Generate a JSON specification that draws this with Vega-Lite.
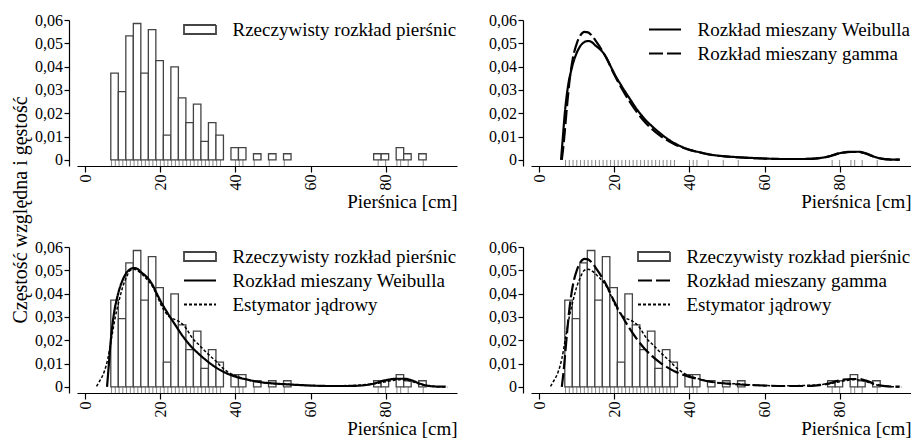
{
  "$schema": "https://vega.github.io/schema/vega-lite/v6.json",
  "padding": {"left": 10, "top": 12, "right": 0, "bottom": 0},
  "background": "white",
  "title": {"text": "Częstość względna i gęstość", "orient": "left", "anchor": "middle", "font": "Liberation Serif", "fontSize": 20, "fontWeight": "normal", "color": "#000", "offset": 4, "dx": 15},
  "datasets": {
    "hist": [
      {"x": 6.8, "x2": 8.8, "y": 0.03723},
      {"x": 8.8, "x2": 10.8, "y": 0.02926},
      {"x": 10.8, "x2": 12.8, "y": 0.05319},
      {"x": 12.8, "x2": 14.8, "y": 0.05851},
      {"x": 14.8, "x2": 16.8, "y": 0.03723},
      {"x": 16.8, "x2": 18.8, "y": 0.05585},
      {"x": 18.8, "x2": 20.8, "y": 0.04255},
      {"x": 20.8, "x2": 22.8, "y": 0.01064},
      {"x": 22.8, "x2": 24.8, "y": 0.03989},
      {"x": 24.8, "x2": 26.8, "y": 0.0266},
      {"x": 26.8, "x2": 28.8, "y": 0.01596},
      {"x": 28.8, "x2": 30.8, "y": 0.02394},
      {"x": 30.8, "x2": 32.8, "y": 0.00798},
      {"x": 32.8, "x2": 34.8, "y": 0.01596},
      {"x": 34.8, "x2": 36.8, "y": 0.01064},
      {"x": 38.8, "x2": 40.8, "y": 0.00532},
      {"x": 40.8, "x2": 42.8, "y": 0.00532},
      {"x": 44.8, "x2": 46.8, "y": 0.00266},
      {"x": 48.8, "x2": 50.8, "y": 0.00266},
      {"x": 52.8, "x2": 54.8, "y": 0.00266},
      {"x": 76.8, "x2": 78.8, "y": 0.00266},
      {"x": 78.8, "x2": 80.8, "y": 0.00266},
      {"x": 82.8, "x2": 84.8, "y": 0.00532},
      {"x": 84.8, "x2": 86.8, "y": 0.00266},
      {"x": 88.8, "x2": 90.8, "y": 0.00266}
    ],
    "rug": [
      {"x": 7}, {"x": 8}, {"x": 9}, {"x": 10}, {"x": 11}, {"x": 12}, {"x": 13}, {"x": 14}, {"x": 15}, {"x": 16},
      {"x": 17}, {"x": 18}, {"x": 19}, {"x": 20}, {"x": 21}, {"x": 22}, {"x": 23}, {"x": 24}, {"x": 25}, {"x": 26},
      {"x": 27}, {"x": 28}, {"x": 29}, {"x": 30}, {"x": 31}, {"x": 32}, {"x": 33}, {"x": 34}, {"x": 35}, {"x": 36},
      {"x": 40}, {"x": 41}, {"x": 42}, {"x": 45}, {"x": 49}, {"x": 53}, {"x": 78}, {"x": 80}, {"x": 83}, {"x": 84}, {"x": 86}, {"x": 90}
    ],
    "curves": [
      {"series": "Rozkład mieszany Weibulla", "x": 5.8, "y": 0},
      {"series": "Rozkład mieszany Weibulla", "x": 6.2, "y": 0.008},
      {"series": "Rozkład mieszany Weibulla", "x": 6.8, "y": 0.02},
      {"series": "Rozkład mieszany Weibulla", "x": 7.6, "y": 0.031},
      {"series": "Rozkład mieszany Weibulla", "x": 8.6, "y": 0.039},
      {"series": "Rozkład mieszany Weibulla", "x": 10, "y": 0.046},
      {"series": "Rozkład mieszany Weibulla", "x": 11, "y": 0.049},
      {"series": "Rozkład mieszany Weibulla", "x": 12, "y": 0.0505},
      {"series": "Rozkład mieszany Weibulla", "x": 13, "y": 0.051},
      {"series": "Rozkład mieszany Weibulla", "x": 14, "y": 0.0505},
      {"series": "Rozkład mieszany Weibulla", "x": 15, "y": 0.049},
      {"series": "Rozkład mieszany Weibulla", "x": 16, "y": 0.0477},
      {"series": "Rozkład mieszany Weibulla", "x": 17, "y": 0.046},
      {"series": "Rozkład mieszany Weibulla", "x": 18, "y": 0.0435},
      {"series": "Rozkład mieszany Weibulla", "x": 19, "y": 0.0402},
      {"series": "Rozkład mieszany Weibulla", "x": 20, "y": 0.037},
      {"series": "Rozkład mieszany Weibulla", "x": 22, "y": 0.0315},
      {"series": "Rozkład mieszany Weibulla", "x": 24, "y": 0.0265},
      {"series": "Rozkład mieszany Weibulla", "x": 26, "y": 0.0217},
      {"series": "Rozkład mieszany Weibulla", "x": 28, "y": 0.0177},
      {"series": "Rozkład mieszany Weibulla", "x": 30, "y": 0.0145},
      {"series": "Rozkład mieszany Weibulla", "x": 32, "y": 0.0117},
      {"series": "Rozkład mieszany Weibulla", "x": 34, "y": 0.0092},
      {"series": "Rozkład mieszany Weibulla", "x": 36, "y": 0.0072},
      {"series": "Rozkład mieszany Weibulla", "x": 38, "y": 0.0056},
      {"series": "Rozkład mieszany Weibulla", "x": 40, "y": 0.0044},
      {"series": "Rozkład mieszany Weibulla", "x": 43, "y": 0.0032},
      {"series": "Rozkład mieszany Weibulla", "x": 46, "y": 0.0022},
      {"series": "Rozkład mieszany Weibulla", "x": 50, "y": 0.0015},
      {"series": "Rozkład mieszany Weibulla", "x": 55, "y": 0.001},
      {"series": "Rozkład mieszany Weibulla", "x": 60, "y": 0.0006},
      {"series": "Rozkład mieszany Weibulla", "x": 65, "y": 0.0004},
      {"series": "Rozkład mieszany Weibulla", "x": 70, "y": 0.0004},
      {"series": "Rozkład mieszany Weibulla", "x": 74, "y": 0.0007},
      {"series": "Rozkład mieszany Weibulla", "x": 77, "y": 0.0015},
      {"series": "Rozkład mieszany Weibulla", "x": 79, "y": 0.0025},
      {"series": "Rozkład mieszany Weibulla", "x": 81, "y": 0.0032},
      {"series": "Rozkład mieszany Weibulla", "x": 83, "y": 0.0035},
      {"series": "Rozkład mieszany Weibulla", "x": 85, "y": 0.0035},
      {"series": "Rozkład mieszany Weibulla", "x": 87, "y": 0.0028},
      {"series": "Rozkład mieszany Weibulla", "x": 89, "y": 0.0015},
      {"series": "Rozkład mieszany Weibulla", "x": 91, "y": 0.0006},
      {"series": "Rozkład mieszany Weibulla", "x": 93, "y": 0.0002},
      {"series": "Rozkład mieszany Weibulla", "x": 96, "y": 0.0001},
      {"series": "Rozkład mieszany gamma", "x": 6.0, "y": 0},
      {"series": "Rozkład mieszany gamma", "x": 6.5, "y": 0.007},
      {"series": "Rozkład mieszany gamma", "x": 7, "y": 0.016},
      {"series": "Rozkład mieszany gamma", "x": 7.5, "y": 0.025},
      {"series": "Rozkład mieszany gamma", "x": 8, "y": 0.033},
      {"series": "Rozkład mieszany gamma", "x": 9, "y": 0.044},
      {"series": "Rozkład mieszany gamma", "x": 10, "y": 0.05},
      {"series": "Rozkład mieszany gamma", "x": 11, "y": 0.0535},
      {"series": "Rozkład mieszany gamma", "x": 12, "y": 0.0549},
      {"series": "Rozkład mieszany gamma", "x": 13, "y": 0.0547},
      {"series": "Rozkład mieszany gamma", "x": 14, "y": 0.0533},
      {"series": "Rozkład mieszany gamma", "x": 15, "y": 0.0512},
      {"series": "Rozkład mieszany gamma", "x": 16, "y": 0.0488},
      {"series": "Rozkład mieszany gamma", "x": 17, "y": 0.0462},
      {"series": "Rozkład mieszany gamma", "x": 18, "y": 0.0433},
      {"series": "Rozkład mieszany gamma", "x": 20, "y": 0.0365},
      {"series": "Rozkład mieszany gamma", "x": 22, "y": 0.0305},
      {"series": "Rozkład mieszany gamma", "x": 24, "y": 0.0252},
      {"series": "Rozkład mieszany gamma", "x": 26, "y": 0.0205},
      {"series": "Rozkład mieszany gamma", "x": 28, "y": 0.0165},
      {"series": "Rozkład mieszany gamma", "x": 30, "y": 0.0133},
      {"series": "Rozkład mieszany gamma", "x": 32, "y": 0.0106},
      {"series": "Rozkład mieszany gamma", "x": 34, "y": 0.0085},
      {"series": "Rozkład mieszany gamma", "x": 36, "y": 0.0067},
      {"series": "Rozkład mieszany gamma", "x": 38, "y": 0.0054},
      {"series": "Rozkład mieszany gamma", "x": 40, "y": 0.0043},
      {"series": "Rozkład mieszany gamma", "x": 43, "y": 0.0031},
      {"series": "Rozkład mieszany gamma", "x": 46, "y": 0.0021},
      {"series": "Rozkład mieszany gamma", "x": 50, "y": 0.0014},
      {"series": "Rozkład mieszany gamma", "x": 55, "y": 0.0009},
      {"series": "Rozkład mieszany gamma", "x": 60, "y": 0.0006},
      {"series": "Rozkład mieszany gamma", "x": 65, "y": 0.0004},
      {"series": "Rozkład mieszany gamma", "x": 70, "y": 0.0004},
      {"series": "Rozkład mieszany gamma", "x": 74, "y": 0.0007},
      {"series": "Rozkład mieszany gamma", "x": 77, "y": 0.0014},
      {"series": "Rozkład mieszany gamma", "x": 79, "y": 0.0024},
      {"series": "Rozkład mieszany gamma", "x": 81, "y": 0.0031},
      {"series": "Rozkład mieszany gamma", "x": 83, "y": 0.0034},
      {"series": "Rozkład mieszany gamma", "x": 85, "y": 0.0034},
      {"series": "Rozkład mieszany gamma", "x": 87, "y": 0.0027},
      {"series": "Rozkład mieszany gamma", "x": 89, "y": 0.0015},
      {"series": "Rozkład mieszany gamma", "x": 91, "y": 0.0006},
      {"series": "Rozkład mieszany gamma", "x": 93, "y": 0.0002},
      {"series": "Rozkład mieszany gamma", "x": 96, "y": 0.0001},
      {"series": "Estymator jądrowy", "x": 3, "y": 0.0002},
      {"series": "Estymator jądrowy", "x": 4, "y": 0.003},
      {"series": "Estymator jądrowy", "x": 5, "y": 0.0063},
      {"series": "Estymator jądrowy", "x": 6, "y": 0.012},
      {"series": "Estymator jądrowy", "x": 7, "y": 0.021},
      {"series": "Estymator jądrowy", "x": 8, "y": 0.03},
      {"series": "Estymator jądrowy", "x": 9, "y": 0.037},
      {"series": "Estymator jądrowy", "x": 10, "y": 0.043},
      {"series": "Estymator jądrowy", "x": 11, "y": 0.0472},
      {"series": "Estymator jądrowy", "x": 12, "y": 0.05},
      {"series": "Estymator jądrowy", "x": 13, "y": 0.0505},
      {"series": "Estymator jądrowy", "x": 14, "y": 0.0498},
      {"series": "Estymator jądrowy", "x": 15, "y": 0.0485},
      {"series": "Estymator jądrowy", "x": 16, "y": 0.0468},
      {"series": "Estymator jądrowy", "x": 17, "y": 0.0452},
      {"series": "Estymator jądrowy", "x": 18, "y": 0.0428},
      {"series": "Estymator jądrowy", "x": 19, "y": 0.0395},
      {"series": "Estymator jądrowy", "x": 20, "y": 0.0358},
      {"series": "Estymator jądrowy", "x": 21, "y": 0.0328},
      {"series": "Estymator jądrowy", "x": 22, "y": 0.0307},
      {"series": "Estymator jądrowy", "x": 23, "y": 0.0295},
      {"series": "Estymator jądrowy", "x": 24, "y": 0.0288},
      {"series": "Estymator jądrowy", "x": 25, "y": 0.028},
      {"series": "Estymator jądrowy", "x": 26, "y": 0.0268},
      {"series": "Estymator jądrowy", "x": 27, "y": 0.0248},
      {"series": "Estymator jądrowy", "x": 28, "y": 0.0222},
      {"series": "Estymator jądrowy", "x": 29, "y": 0.02},
      {"series": "Estymator jądrowy", "x": 30, "y": 0.0185},
      {"series": "Estymator jądrowy", "x": 32, "y": 0.0152},
      {"series": "Estymator jądrowy", "x": 34, "y": 0.0122},
      {"series": "Estymator jądrowy", "x": 35, "y": 0.0108},
      {"series": "Estymator jądrowy", "x": 36, "y": 0.009},
      {"series": "Estymator jądrowy", "x": 38, "y": 0.0064},
      {"series": "Estymator jądrowy", "x": 40, "y": 0.0048},
      {"series": "Estymator jądrowy", "x": 42, "y": 0.0037},
      {"series": "Estymator jądrowy", "x": 44, "y": 0.0028},
      {"series": "Estymator jądrowy", "x": 46, "y": 0.0021},
      {"series": "Estymator jądrowy", "x": 48, "y": 0.0017},
      {"series": "Estymator jądrowy", "x": 50, "y": 0.0015},
      {"series": "Estymator jądrowy", "x": 53, "y": 0.0013},
      {"series": "Estymator jądrowy", "x": 56, "y": 0.0009},
      {"series": "Estymator jądrowy", "x": 60, "y": 0.0006},
      {"series": "Estymator jądrowy", "x": 65, "y": 0.0005},
      {"series": "Estymator jądrowy", "x": 70, "y": 0.0006},
      {"series": "Estymator jądrowy", "x": 74, "y": 0.0009},
      {"series": "Estymator jądrowy", "x": 77, "y": 0.0014},
      {"series": "Estymator jądrowy", "x": 79, "y": 0.0019},
      {"series": "Estymator jądrowy", "x": 81, "y": 0.0025},
      {"series": "Estymator jądrowy", "x": 83, "y": 0.003},
      {"series": "Estymator jądrowy", "x": 84.5, "y": 0.0031},
      {"series": "Estymator jądrowy", "x": 86, "y": 0.0027},
      {"series": "Estymator jądrowy", "x": 88, "y": 0.0018},
      {"series": "Estymator jądrowy", "x": 90, "y": 0.0008},
      {"series": "Estymator jądrowy", "x": 92, "y": 0.0003},
      {"series": "Estymator jądrowy", "x": 94, "y": 0.0001},
      {"series": "Estymator jądrowy", "x": 96.4, "y": 0}
    ]
  },
  "columns": 2,
  "spacing": {"row": 81, "column": 74},
  "bounds": "flush",
  "resolve": {"scale": {"strokeDash": "independent"}, "legend": {"strokeDash": "independent"}},
  "concat": [
    {
      "width": 380, "height": 146,
      "layer": [
        {
          "data": {"name": "rug"},
          "mark": {"type": "rule", "color": "#888", "strokeWidth": 1},
          "encoding": {
            "x": {"field": "x", "type": "quantitative", "scale": {"domain": [-2.2, 99], "nice": false, "zero": false}, "axis": {"title": "Pierśnica [cm]", "values": [0, 20, 40, 60, 80]}},
            "y": {"datum": 0, "type": "quantitative", "scale": {"domain": [-0.0026, 0.06], "nice": false, "zero": false}, "axis": {"title": null, "values": [0, 0.01, 0.02, 0.03, 0.04, 0.05, 0.06], "labelExpr": "datum.value == 0 ? '0' : replace(format(datum.value, '.2f'), '.', ',')"}},
            "y2": {"datum": -0.0026}
          }
        },
        {
          "mark": {"type": "rule", "color": "#888", "strokeWidth": 1},
          "encoding": {
            "x": {"datum": 3.1, "type": "quantitative", "scale": {"domain": [-2.2, 99], "nice": false, "zero": false}, "axis": {"title": "Pierśnica [cm]", "values": [0, 20, 40, 60, 80]}},
            "x2": {"datum": 96.4},
            "y": {"datum": 0, "type": "quantitative", "scale": {"domain": [-0.0026, 0.06], "nice": false, "zero": false}, "axis": {"title": null, "values": [0, 0.01, 0.02, 0.03, 0.04, 0.05, 0.06], "labelExpr": "datum.value == 0 ? '0' : replace(format(datum.value, '.2f'), '.', ',')"}},
            "strokeDash": {"datum": "Rzeczywisty rozkład pierśnic", "type": "nominal", "scale": {"domain": ["Rzeczywisty rozkład pierśnic"], "range": [[1, 0]]},
              "legend": {"title": null, "orient": "top-right", "offset": 0, "encode": {"symbols": {"update": {"shape": {"signal": "datum.value === 'Rzeczywisty rozkład pierśnic' ? 'M-2,-0.56H2V0.56H-2Z' : 'M-2,0H2'"}, "fill": {"value": "white"}, "opacity": {"value": 1}, "stroke": {"signal": "datum.value === 'Rzeczywisty rozkład pierśnic' ? '#444' : '#000'"}}}}}}
          }
        },
        {
          "data": {"name": "hist"},
          "mark": {"type": "rect", "fill": "white", "stroke": "#444", "strokeWidth": 1.3},
          "encoding": {
            "x": {"field": "x", "type": "quantitative", "scale": {"domain": [-2.2, 99], "nice": false, "zero": false}, "axis": {"title": "Pierśnica [cm]", "values": [0, 20, 40, 60, 80]}},
            "x2": {"field": "x2"},
            "y": {"field": "y", "type": "quantitative", "scale": {"domain": [-0.0026, 0.06], "nice": false, "zero": false}, "axis": {"title": null, "values": [0, 0.01, 0.02, 0.03, 0.04, 0.05, 0.06], "labelExpr": "datum.value == 0 ? '0' : replace(format(datum.value, '.2f'), '.', ',')"}},
            "y2": {"datum": 0}
          }
        }
      ]
    },
    {
      "width": 380, "height": 146,
      "layer": [
        {
          "data": {"name": "rug"},
          "mark": {"type": "rule", "color": "#888", "strokeWidth": 1},
          "encoding": {
            "x": {"field": "x", "type": "quantitative", "scale": {"domain": [-2.2, 99], "nice": false, "zero": false}, "axis": {"title": "Pierśnica [cm]", "values": [0, 20, 40, 60, 80]}},
            "y": {"datum": 0, "type": "quantitative", "scale": {"domain": [-0.0026, 0.06], "nice": false, "zero": false}, "axis": {"title": null, "values": [0, 0.01, 0.02, 0.03, 0.04, 0.05, 0.06], "labelExpr": "datum.value == 0 ? '0' : replace(format(datum.value, '.2f'), '.', ',')"}},
            "y2": {"datum": -0.0026}
          }
        },
        {
          "data": {"name": "curves"},
          "transform": [{"filter": {"field": "series", "oneOf": ["Rozkład mieszany Weibulla", "Rozkład mieszany gamma"]}}],
          "mark": {"type": "line", "color": "#000", "strokeWidth": 2.2, "interpolate": "monotone"},
          "encoding": {
            "x": {"field": "x", "type": "quantitative", "scale": {"domain": [-2.2, 99], "nice": false, "zero": false}, "axis": {"title": "Pierśnica [cm]", "values": [0, 20, 40, 60, 80]}},
            "y": {"field": "y", "type": "quantitative", "scale": {"domain": [-0.0026, 0.06], "nice": false, "zero": false}, "axis": {"title": null, "values": [0, 0.01, 0.02, 0.03, 0.04, 0.05, 0.06], "labelExpr": "datum.value == 0 ? '0' : replace(format(datum.value, '.2f'), '.', ',')"}},
            "strokeDash": {"field": "series", "type": "nominal", "scale": {"domain": ["Rozkład mieszany Weibulla", "Rozkład mieszany gamma"], "range": [[1, 0], [14, 4]]},
              "legend": {"title": null, "orient": "top-right", "offset": 0, "encode": {"symbols": {"update": {"shape": {"value": "M-2,0H2"}, "opacity": {"value": 1}, "stroke": {"value": "#000"}}}}}}
          }
        }
      ]
    },
    {
      "width": 380, "height": 146,
      "layer": [
        {
          "data": {"name": "rug"},
          "mark": {"type": "rule", "color": "#888", "strokeWidth": 1},
          "encoding": {
            "x": {"field": "x", "type": "quantitative", "scale": {"domain": [-2.2, 99], "nice": false, "zero": false}, "axis": {"title": "Pierśnica [cm]", "values": [0, 20, 40, 60, 80]}},
            "y": {"datum": 0, "type": "quantitative", "scale": {"domain": [-0.0026, 0.06], "nice": false, "zero": false}, "axis": {"title": null, "values": [0, 0.01, 0.02, 0.03, 0.04, 0.05, 0.06], "labelExpr": "datum.value == 0 ? '0' : replace(format(datum.value, '.2f'), '.', ',')"}},
            "y2": {"datum": -0.0026}
          }
        },
        {
          "mark": {"type": "rule", "color": "#888", "strokeWidth": 1},
          "encoding": {
            "x": {"datum": 3.1, "type": "quantitative", "scale": {"domain": [-2.2, 99], "nice": false, "zero": false}, "axis": {"title": "Pierśnica [cm]", "values": [0, 20, 40, 60, 80]}},
            "x2": {"datum": 96.4},
            "y": {"datum": 0, "type": "quantitative", "scale": {"domain": [-0.0026, 0.06], "nice": false, "zero": false}, "axis": {"title": null, "values": [0, 0.01, 0.02, 0.03, 0.04, 0.05, 0.06], "labelExpr": "datum.value == 0 ? '0' : replace(format(datum.value, '.2f'), '.', ',')"}},
            "strokeDash": {"datum": "Rzeczywisty rozkład pierśnic", "type": "nominal", "scale": {"domain": ["Rzeczywisty rozkład pierśnic", "Rozkład mieszany Weibulla", "Estymator jądrowy"], "range": [[1, 0], [1, 0], [3, 2]]},
              "legend": {"title": null, "orient": "top-right", "offset": 0, "encode": {"symbols": {"update": {"shape": {"signal": "datum.value === 'Rzeczywisty rozkład pierśnic' ? 'M-2,-0.56H2V0.56H-2Z' : 'M-2,0H2'"}, "fill": {"value": "white"}, "opacity": {"value": 1}, "stroke": {"signal": "datum.value === 'Rzeczywisty rozkład pierśnic' ? '#444' : '#000'"}}}}}}
          }
        },
        {
          "data": {"name": "hist"},
          "mark": {"type": "rect", "fill": "white", "stroke": "#444", "strokeWidth": 1.3},
          "encoding": {
            "x": {"field": "x", "type": "quantitative", "scale": {"domain": [-2.2, 99], "nice": false, "zero": false}, "axis": {"title": "Pierśnica [cm]", "values": [0, 20, 40, 60, 80]}},
            "x2": {"field": "x2"},
            "y": {"field": "y", "type": "quantitative", "scale": {"domain": [-0.0026, 0.06], "nice": false, "zero": false}, "axis": {"title": null, "values": [0, 0.01, 0.02, 0.03, 0.04, 0.05, 0.06], "labelExpr": "datum.value == 0 ? '0' : replace(format(datum.value, '.2f'), '.', ',')"}},
            "y2": {"datum": 0}
          }
        },
        {
          "data": {"name": "curves"},
          "transform": [{"filter": {"field": "series", "equal": "Estymator jądrowy"}}],
          "mark": {"type": "line", "color": "#000", "strokeWidth": 1.5, "interpolate": "monotone"},
          "encoding": {
            "x": {"field": "x", "type": "quantitative", "scale": {"domain": [-2.2, 99], "nice": false, "zero": false}, "axis": {"title": "Pierśnica [cm]", "values": [0, 20, 40, 60, 80]}},
            "y": {"field": "y", "type": "quantitative", "scale": {"domain": [-0.0026, 0.06], "nice": false, "zero": false}, "axis": {"title": null, "values": [0, 0.01, 0.02, 0.03, 0.04, 0.05, 0.06], "labelExpr": "datum.value == 0 ? '0' : replace(format(datum.value, '.2f'), '.', ',')"}},
            "strokeDash": {"field": "series", "type": "nominal", "scale": {"domain": ["Rzeczywisty rozkład pierśnic", "Rozkład mieszany Weibulla", "Estymator jądrowy"], "range": [[1, 0], [1, 0], [3, 2]]},
              "legend": {"title": null, "orient": "top-right", "offset": 0, "encode": {"symbols": {"update": {"shape": {"signal": "datum.value === 'Rzeczywisty rozkład pierśnic' ? 'M-2,-0.56H2V0.56H-2Z' : 'M-2,0H2'"}, "fill": {"value": "white"}, "opacity": {"value": 1}, "stroke": {"signal": "datum.value === 'Rzeczywisty rozkład pierśnic' ? '#444' : '#000'"}}}}}}
          }
        },
        {
          "data": {"name": "curves"},
          "transform": [{"filter": {"field": "series", "equal": "Rozkład mieszany Weibulla"}}],
          "mark": {"type": "line", "color": "#000", "strokeWidth": 2.2, "interpolate": "monotone"},
          "encoding": {
            "x": {"field": "x", "type": "quantitative", "scale": {"domain": [-2.2, 99], "nice": false, "zero": false}, "axis": {"title": "Pierśnica [cm]", "values": [0, 20, 40, 60, 80]}},
            "y": {"field": "y", "type": "quantitative", "scale": {"domain": [-0.0026, 0.06], "nice": false, "zero": false}, "axis": {"title": null, "values": [0, 0.01, 0.02, 0.03, 0.04, 0.05, 0.06], "labelExpr": "datum.value == 0 ? '0' : replace(format(datum.value, '.2f'), '.', ',')"}},
            "strokeDash": {"field": "series", "type": "nominal", "scale": {"domain": ["Rzeczywisty rozkład pierśnic", "Rozkład mieszany Weibulla", "Estymator jądrowy"], "range": [[1, 0], [1, 0], [3, 2]]},
              "legend": {"title": null, "orient": "top-right", "offset": 0, "encode": {"symbols": {"update": {"shape": {"signal": "datum.value === 'Rzeczywisty rozkład pierśnic' ? 'M-2,-0.56H2V0.56H-2Z' : 'M-2,0H2'"}, "fill": {"value": "white"}, "opacity": {"value": 1}, "stroke": {"signal": "datum.value === 'Rzeczywisty rozkład pierśnic' ? '#444' : '#000'"}}}}}}
          }
        }
      ]
    },
    {
      "width": 380, "height": 146,
      "layer": [
        {
          "data": {"name": "rug"},
          "mark": {"type": "rule", "color": "#888", "strokeWidth": 1},
          "encoding": {
            "x": {"field": "x", "type": "quantitative", "scale": {"domain": [-2.2, 99], "nice": false, "zero": false}, "axis": {"title": "Pierśnica [cm]", "values": [0, 20, 40, 60, 80]}},
            "y": {"datum": 0, "type": "quantitative", "scale": {"domain": [-0.0026, 0.06], "nice": false, "zero": false}, "axis": {"title": null, "values": [0, 0.01, 0.02, 0.03, 0.04, 0.05, 0.06], "labelExpr": "datum.value == 0 ? '0' : replace(format(datum.value, '.2f'), '.', ',')"}},
            "y2": {"datum": -0.0026}
          }
        },
        {
          "mark": {"type": "rule", "color": "#888", "strokeWidth": 1},
          "encoding": {
            "x": {"datum": 3.1, "type": "quantitative", "scale": {"domain": [-2.2, 99], "nice": false, "zero": false}, "axis": {"title": "Pierśnica [cm]", "values": [0, 20, 40, 60, 80]}},
            "x2": {"datum": 96.4},
            "y": {"datum": 0, "type": "quantitative", "scale": {"domain": [-0.0026, 0.06], "nice": false, "zero": false}, "axis": {"title": null, "values": [0, 0.01, 0.02, 0.03, 0.04, 0.05, 0.06], "labelExpr": "datum.value == 0 ? '0' : replace(format(datum.value, '.2f'), '.', ',')"}},
            "strokeDash": {"datum": "Rzeczywisty rozkład pierśnic", "type": "nominal", "scale": {"domain": ["Rzeczywisty rozkład pierśnic", "Rozkład mieszany gamma", "Estymator jądrowy"], "range": [[1, 0], [14, 4], [3, 2]]},
              "legend": {"title": null, "orient": "top-right", "offset": 0, "encode": {"symbols": {"update": {"shape": {"signal": "datum.value === 'Rzeczywisty rozkład pierśnic' ? 'M-2,-0.56H2V0.56H-2Z' : 'M-2,0H2'"}, "fill": {"value": "white"}, "opacity": {"value": 1}, "stroke": {"signal": "datum.value === 'Rzeczywisty rozkład pierśnic' ? '#444' : '#000'"}}}}}}
          }
        },
        {
          "data": {"name": "hist"},
          "mark": {"type": "rect", "fill": "white", "stroke": "#444", "strokeWidth": 1.3},
          "encoding": {
            "x": {"field": "x", "type": "quantitative", "scale": {"domain": [-2.2, 99], "nice": false, "zero": false}, "axis": {"title": "Pierśnica [cm]", "values": [0, 20, 40, 60, 80]}},
            "x2": {"field": "x2"},
            "y": {"field": "y", "type": "quantitative", "scale": {"domain": [-0.0026, 0.06], "nice": false, "zero": false}, "axis": {"title": null, "values": [0, 0.01, 0.02, 0.03, 0.04, 0.05, 0.06], "labelExpr": "datum.value == 0 ? '0' : replace(format(datum.value, '.2f'), '.', ',')"}},
            "y2": {"datum": 0}
          }
        },
        {
          "data": {"name": "curves"},
          "transform": [{"filter": {"field": "series", "equal": "Estymator jądrowy"}}],
          "mark": {"type": "line", "color": "#000", "strokeWidth": 1.5, "interpolate": "monotone"},
          "encoding": {
            "x": {"field": "x", "type": "quantitative", "scale": {"domain": [-2.2, 99], "nice": false, "zero": false}, "axis": {"title": "Pierśnica [cm]", "values": [0, 20, 40, 60, 80]}},
            "y": {"field": "y", "type": "quantitative", "scale": {"domain": [-0.0026, 0.06], "nice": false, "zero": false}, "axis": {"title": null, "values": [0, 0.01, 0.02, 0.03, 0.04, 0.05, 0.06], "labelExpr": "datum.value == 0 ? '0' : replace(format(datum.value, '.2f'), '.', ',')"}},
            "strokeDash": {"field": "series", "type": "nominal", "scale": {"domain": ["Rzeczywisty rozkład pierśnic", "Rozkład mieszany gamma", "Estymator jądrowy"], "range": [[1, 0], [14, 4], [3, 2]]},
              "legend": {"title": null, "orient": "top-right", "offset": 0, "encode": {"symbols": {"update": {"shape": {"signal": "datum.value === 'Rzeczywisty rozkład pierśnic' ? 'M-2,-0.56H2V0.56H-2Z' : 'M-2,0H2'"}, "fill": {"value": "white"}, "opacity": {"value": 1}, "stroke": {"signal": "datum.value === 'Rzeczywisty rozkład pierśnic' ? '#444' : '#000'"}}}}}}
          }
        },
        {
          "data": {"name": "curves"},
          "transform": [{"filter": {"field": "series", "equal": "Rozkład mieszany gamma"}}],
          "mark": {"type": "line", "color": "#000", "strokeWidth": 2.2, "interpolate": "monotone"},
          "encoding": {
            "x": {"field": "x", "type": "quantitative", "scale": {"domain": [-2.2, 99], "nice": false, "zero": false}, "axis": {"title": "Pierśnica [cm]", "values": [0, 20, 40, 60, 80]}},
            "y": {"field": "y", "type": "quantitative", "scale": {"domain": [-0.0026, 0.06], "nice": false, "zero": false}, "axis": {"title": null, "values": [0, 0.01, 0.02, 0.03, 0.04, 0.05, 0.06], "labelExpr": "datum.value == 0 ? '0' : replace(format(datum.value, '.2f'), '.', ',')"}},
            "strokeDash": {"field": "series", "type": "nominal", "scale": {"domain": ["Rzeczywisty rozkład pierśnic", "Rozkład mieszany gamma", "Estymator jądrowy"], "range": [[1, 0], [14, 4], [3, 2]]},
              "legend": {"title": null, "orient": "top-right", "offset": 0, "encode": {"symbols": {"update": {"shape": {"signal": "datum.value === 'Rzeczywisty rozkład pierśnic' ? 'M-2,-0.56H2V0.56H-2Z' : 'M-2,0H2'"}, "fill": {"value": "white"}, "opacity": {"value": 1}, "stroke": {"signal": "datum.value === 'Rzeczywisty rozkład pierśnic' ? '#444' : '#000'"}}}}}}
          }
        }
      ]
    }
  ],
  "config": {
    "view": {"stroke": null},
    "font": "Liberation Serif",
    "axis": {"grid": false, "domainColor": "#000", "tickColor": "#000", "labelColor": "#000", "titleColor": "#000", "labelFont": "Liberation Serif", "titleFont": "Liberation Serif", "labelFontSize": 16, "titleFontSize": 19, "titleFontWeight": "normal", "domainWidth": 1.2, "tickWidth": 1.2, "labelOverlap": false},
    "axisX": {"labelAngle": 270, "tickSize": 6, "labelPadding": 2, "titleAnchor": "end", "titlePadding": 2, "labelFlush": false},
    "axisY": {"offset": 8, "tickSize": 5, "labelPadding": 1.5},
    "legend": {"labelFont": "Liberation Serif", "labelFontSize": 19, "labelColor": "#000", "symbolSize": 256, "symbolOffset": 6.5, "labelOffset": 23, "symbolStrokeWidth": 1.8, "symbolStrokeColor": "#000", "rowPadding": 4, "padding": 0, "labelLimit": 400}
  }
}
